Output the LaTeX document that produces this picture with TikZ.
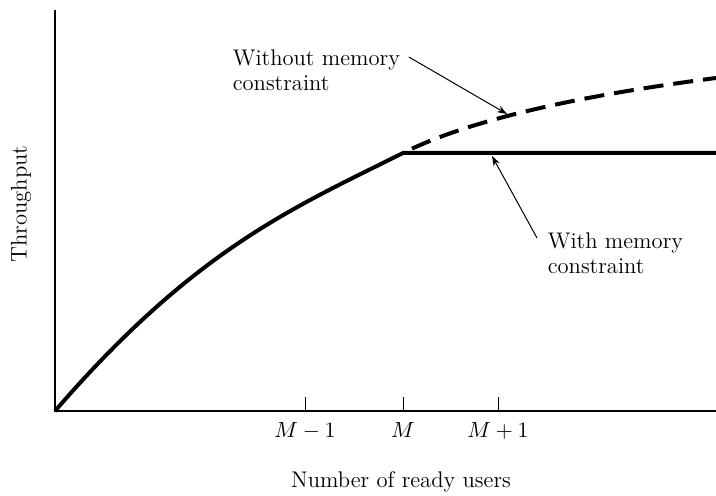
\documentclass[tikz,border=0pt]{standalone}
\usetikzlibrary{arrows.meta, positioning}
\tikzset{
  every picture/.style={line width=0.8pt},
  axis/.style={line width=0.8pt},
  tick/.style={line width=0.5pt},
  curve/.style={line width=2pt, line join=round},
  free/.style={curve, dash pattern=on 10pt off 5pt, dash phase=10pt},
  pointer/.style={-{Stealth[length=5pt, width=3.5pt]}, line width=0.5pt},
  note/.style={font=\fontsize{11.3}{12.5}\selectfont, align=left, inner sep=0pt},
}
\begin{document}
\begin{tikzpicture}[x=0.5pt, y=0.5pt]
  \useasboundingbox (0,0) rectangle (716,496);
  % axes
  \coordinate (origin) at (55,85);
  \draw[axis] (55,486) -- (origin) -- (716,85);
  % ticks around M
  \foreach \x/\t [count=\i] in {305/M-1, 403/M, 498/M+1} {
    \draw[tick] (\x,85) -- (\x,99);
    \node[note, anchor=base] (tick\i) at (\x,58) {$\t$};
  }
  % axis titles
  \node[note, anchor=base] (xtitle) at (401,8) {Number of ready users};
  \node[note, rotate=90] (ytitle) at (21,292) {Throughput};
  % throughput up to M, flat after that
  \coordinate (knee) at (403,343);
  \draw[curve] (origin) .. controls (195,247) and (293,288) .. (knee) -- (716,343);
  % growth if memory were unlimited
  \draw[free] (knee) .. controls (483,383) and (616,405) .. (716,418);
  % labels with pointers
  \node[note, anchor=north west] (without) at (232,447) {Without memory\\constraint};
  \node[note, anchor=north west] (with) at (547,264) {With memory\\constraint};
  \coordinate (dashtip) at (507,382);
  \coordinate (flattip) at (492,340);
  \draw[pointer] ([xshift=4pt, yshift=-4pt]without.north east) -- (dashtip);
  \draw[pointer] ([xshift=-5pt, yshift=-3pt]with.north west) -- (flattip);
\end{tikzpicture}
\end{document}
